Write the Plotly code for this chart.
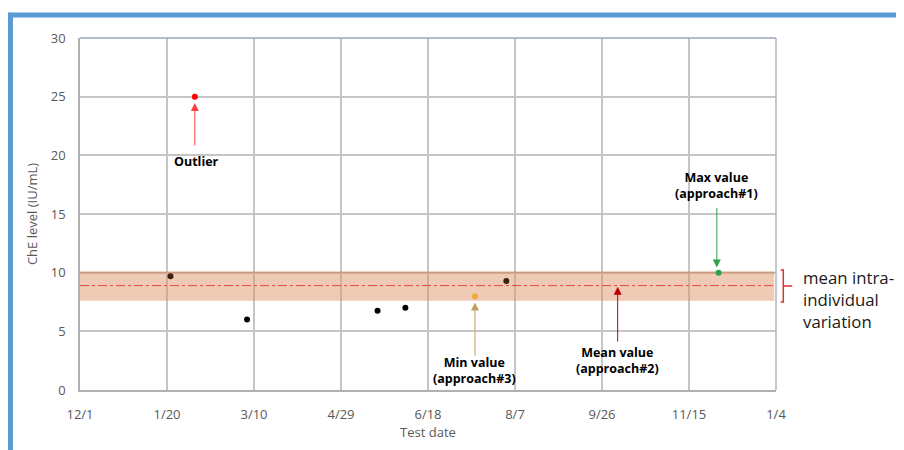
import plotly.graph_objects as go

# ---------------- data ----------------
test_dates = ["2016-01-22", "2016-02-05", "2016-03-06", "2016-05-20",
              "2016-06-05", "2016-07-15", "2016-08-02", "2016-12-02"]
che_levels = [9.7, 25.0, 6.0, 6.75, 7.0, 8.0, 9.3, 10.0]
point_colors = ["#3a2010", "#ff0000", "#000000", "#000000",
                "#000000", "#f2a93b", "#3a2010", "#2ea24a"]

band_low = 7.6
band_high = 10.05
mean_value = 8.9

x_start = "2015-12-01"
x_end = "2017-01-04"
tick_step_days = 50

# arrows: (x date, tip value, tail value, colour)
arrow_outlier = ("2016-02-05", 24.45, 20.7, "#ff4040")
arrow_min = ("2016-07-15", 7.45, 2.8, "#bfa15a")
arrow_mean = ("2016-10-05", 8.8, 4.0, "#c00000")
arrow_max = ("2016-12-01", 10.45, 15.65, "#2ea24a")

fig = go.Figure()

fig.add_trace(go.Scatter(
    x=test_dates, y=che_levels, mode="markers",
    marker=dict(size=6, color=point_colors),
    showlegend=False, hoverinfo="x+y"))

# shaded band
fig.add_shape(type="rect", xref="x", yref="y",
              x0=x_start, x1="2017-01-03", y0=band_low, y1=band_high,
              fillcolor="rgba(222,145,100,0.48)", line=dict(width=0), layer="between")
fig.add_shape(type="line", xref="x", yref="y",
              x0=x_start, x1="2017-01-03", y0=band_high, y1=band_high,
              line=dict(color="rgba(200,125,85,0.45)", width=1.5), layer="between")
# mean line
fig.add_shape(type="line", xref="x", yref="y",
              x0=x_start, x1="2017-01-03", y0=mean_value, y1=mean_value,
              line=dict(color="#e04a3a", width=1, dash="dashdot"), layer="between")

# bracket on the right
fig.add_shape(type="path", xref="paper", yref="y",
              path="M 1.0068,10.23 L 1.0105,10.23 L 1.0105,7.5 L 1.0068,7.5 M 1.0105,8.87 L 1.0233,8.87",
              line=dict(color="#e03030", width=1.5))

# blue slide frame
fig.add_shape(type="line", xref="paper", yref="paper",
              x0=-0.1034, x1=1.2, y0=1.0653, y1=1.0653,
              line=dict(color="#5b9bd5", width=5))
fig.add_shape(type="line", xref="paper", yref="paper",
              x0=-0.1006, x1=-0.1006, y0=1.072, y1=-0.2,
              line=dict(color="#5b9bd5", width=6))

def add_arrow(spec):
    xd, tip, tail, col = spec
    fig.add_annotation(x=xd, y=tip, ax=xd, ay=tail, xref="x", yref="y",
                       axref="x", ayref="y", text="", showarrow=True,
                       arrowhead=2, arrowsize=1.6, arrowwidth=1,
                       arrowcolor=col, standoff=0, startstandoff=0)

for spec in (arrow_outlier, arrow_min, arrow_mean, arrow_max):
    add_arrow(spec)

bold_font = dict(family="Open Sans", size=12.5, color="#000000")

def add_label(xd, yv, text):
    fig.add_annotation(x=xd, y=yv, xref="x", yref="y", text=text,
                       showarrow=False, font=bold_font, align="center",
                       xanchor="center", yanchor="middle")

add_label("2016-02-06", 19.45, "<b>Outlier</b>")
add_label("2016-07-15", 1.65, "<b>Min value</b><br><b>(approach#3)</b>")
add_label("2016-10-05", 2.55, "<b>Mean value</b><br><b>(approach#2)</b>")
add_label("2016-12-01", 17.4, "<b>Max value</b><br><b>(approach#1)</b>")

fig.add_annotation(x=1.036, y=7.7, xref="paper", yref="y",
                   text="mean intra-<br>individual<br>variation",
                   showarrow=False, align="left", xanchor="left", yanchor="middle",
                   font=dict(family="Open Sans", size=16.8, color="#1a1a1a"))

fig.update_layout(
    width=904, height=450,
    margin=dict(l=72, r=136, t=30, b=68),
    paper_bgcolor="white", plot_bgcolor="white",
    font=dict(family="Open Sans", size=13, color="#595959"),
    xaxis=dict(
        type="date", range=[x_start, x_end],
        tick0=x_start, dtick=tick_step_days * 86400000, tickformat="%-m/%-d",
        showgrid=True, gridcolor="#c6c6c6", gridwidth=1.6,
        showline=True, linecolor="#b0b0b0", linewidth=1.6, mirror=False,
        ticks="", ticklabelstandoff=12,
        title=dict(text="Test date", font=dict(size=13, color="#595959"), standoff=4),
        zeroline=False),
    yaxis=dict(
        range=[0, 30], dtick=5,
        showgrid=True, gridcolor="#c6c6c6", gridwidth=1.6,
        showline=True, linecolor="#b0b0b0", linewidth=1.6,
        ticks="", ticklabelstandoff=10,
        title=dict(text="ChE level (IU/mL)", font=dict(size=13, color="#595959"), standoff=10),
        zeroline=False),
)
# darker top and right border
fig.add_shape(type="line", xref="paper", yref="paper", x0=0, x1=1, y0=1, y1=1,
              line=dict(color="#9aa6b4", width=1.5))
fig.add_shape(type="line", xref="paper", yref="paper", x0=1, x1=1, y0=0, y1=1,
              line=dict(color="#aeb6c0", width=1.5))

fig.write_html("out.html")
